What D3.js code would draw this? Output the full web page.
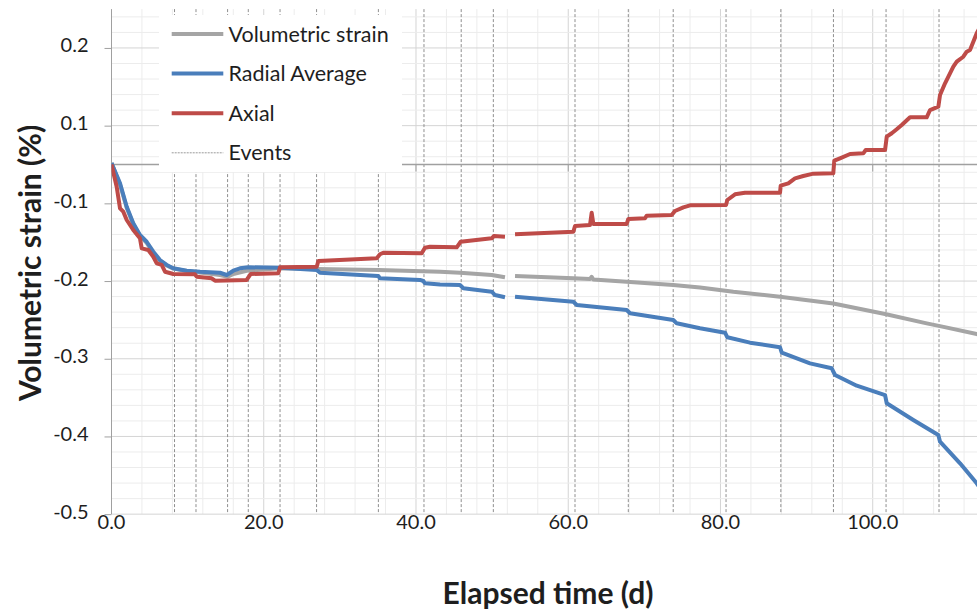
<!DOCTYPE html>
<html>
<head>
<meta charset="utf-8">
<script src="https://cdn.jsdelivr.net/npm/d3@7"></script>
<style>
  html, body { margin: 0; padding: 0; background: #fff; overflow: hidden; }
  svg { display: block; }
  text { font-family: Lato, "Open Sans", sans-serif; fill: #1e1e1e; }
</style>
</head>
<body>
<svg id="chart" width="977" height="609"></svg>
<script>
// Elapsed time (days) and strain (%) per series; null marks the logging gap
const volumetricDays = [0, 1.12, 2.0, 2.86, 3.74, 4.62, 5.49, 6.37, 7.25, 8.12, 9.88, 11.63, 14.25, 15.27, 16.0, 17.76, 22.14, 26.96, 35.05, 43.16, 45.78, 49.95, 51.69, 52.3, 53.01, 60.67, 62.86, 63.08, 63.3, 67.68, 73.8, 77.31, 81.69, 87.82, 94.82, 101.62, 107.09, 108.84, 113.66, 114];
const volumetricStrain = [0.002, -0.026, -0.056, -0.077, -0.092, -0.101, -0.114, -0.124, -0.130, -0.134, -0.137, -0.139, -0.1422, -0.1444, -0.141, -0.1367, -0.1336, -0.1345, -0.1358, -0.138, -0.1393, -0.1422, -0.1452, null, -0.1435, -0.1465, -0.1475, -0.1445, -0.148, -0.1508, -0.155, -0.1582, -0.1638, -0.1702, -0.1788, -0.1925, -0.2045, -0.208, -0.2182, -0.219];

const radialDays = [0, 1.12, 2.0, 2.86, 3.74, 4.62, 5.49, 6.37, 7.25, 8.12, 9.88, 11.63, 14.25, 15.13, 16.0, 16.88, 17.97, 22.14, 26.96, 27.39, 35.05, 35.27, 40.53, 40.96, 41.18, 43.16, 45.78, 46.22, 49.95, 50.38, 51.69, 52.3, 53.01, 60.67, 61.12, 67.68, 68.12, 73.8, 74.25, 77.31, 80.6, 80.9, 83.88, 87.82, 88.05, 91.76, 94.61, 95.05, 97.9, 101.62, 101.84, 105.33, 108.62, 108.84, 111.47, 113.66, 114];
const radialStrain = [0.002, -0.0242, -0.0543, -0.0757, -0.0907, -0.0994, -0.1122, -0.1229, -0.1293, -0.1336, -0.1367, -0.138, -0.1393, -0.1422, -0.1367, -0.1336, -0.1323, -0.1328, -0.1358, -0.1393, -0.1435, -0.1465, -0.1486, -0.1499, -0.1529, -0.1544, -0.1551, -0.1593, -0.1637, -0.168, -0.1709, null, -0.1701, -0.1766, -0.1808, -0.1873, -0.1915, -0.2001, -0.2044, -0.2108, -0.2165, -0.2224, -0.2293, -0.2353, -0.2422, -0.2559, -0.2623, -0.2709, -0.2847, -0.2967, -0.3073, -0.3288, -0.3481, -0.3568, -0.3846, -0.4103, -0.415];

const axialDays = [0, 0.68, 1.12, 1.55, 2.0, 2.86, 3.74, 3.97, 4.83, 5.49, 5.94, 6.59, 7.03, 8.12, 10.97, 11.19, 13.16, 13.6, 17.76, 18.29, 21.91, 22.14, 26.96, 27.17, 34.84, 35.27, 35.71, 40.75, 41.18, 41.84, 45.35, 45.87, 49.95, 50.25, 51.69, 52.3, 53.01, 60.67, 60.89, 62.86, 63.08, 63.3, 67.68, 67.89, 70.09, 70.31, 73.59, 74.02, 75.12, 76.0, 80.73, 80.9, 81.91, 83.22, 87.82, 87.91, 88.91, 89.79, 90.88, 92.2, 94.82, 94.95, 95.7, 97.02, 98.76, 99.08, 101.62, 101.84, 102.5, 103.15, 103.81, 104.9, 107.09, 107.53, 108.62, 108.84, 109.5, 110.59, 111.04, 111.9, 112.35, 112.78, 113.66, 114];
const axialStrain = [0, -0.0286, -0.0564, -0.0607, -0.0714, -0.0843, -0.095, -0.1079, -0.11, -0.1187, -0.1272, -0.1293, -0.138, -0.1409, -0.1413, -0.1444, -0.1465, -0.1496, -0.1486, -0.1409, -0.14, -0.1323, -0.1315, -0.1242, -0.1207, -0.1156, -0.1135, -0.1143, -0.1072, -0.1058, -0.1066, -0.0994, -0.095, -0.092, -0.0929, null, -0.0898, -0.0865, -0.0792, -0.0779, -0.062, -0.0766, -0.0766, -0.0701, -0.0692, -0.0659, -0.065, -0.0598, -0.0551, -0.0525, -0.0521, -0.0457, -0.0384, -0.0363, -0.0363, -0.0273, -0.0242, -0.0178, -0.0148, -0.0118, -0.0113, 0.0049, 0.008, 0.0135, 0.0144, 0.0187, 0.0187, 0.0358, 0.0402, 0.0453, 0.0508, 0.0607, 0.0607, 0.0701, 0.0744, 0.0894, 0.1045, 0.1259, 0.1323, 0.1387, 0.1452, 0.1474, 0.1689, 0.175];

// Test events (days)
const eventDays = [8.28, 11.1, 15.25, 17.97, 22.14, 26.94, 35.06, 41.05, 45.94, 50.16, 60.89, 67.89, 73.79, 80.73, 87.93, 94.84, 101.75, 108.71];

// Axis ticks
const yTickValues = [0.15, 0.05, -0.05, -0.15, -0.25, -0.35, -0.45];
const yTickLabels = ["0.2", "0.1", "-0.1", "-0.2", "-0.3", "-0.4", "-0.5"];
const xTickValues = [0, 20, 40, 60, 80, 100];

const seriesNames = ["Volumetric strain", "Radial Average", "Axial"];
const seriesColors = ["#a5a5a5", "#4a7ebb", "#be4b48"];

const svg = d3.select("#chart");

const x = d3.scaleLinear().domain([0, 114]).range([111.5, 979.3]);
const y = d3.scaleLinear().domain([-0.45, 0.2]).range([514.15, 9.1]);

const plotLeft = x(0), plotRight = x.range()[1];
const plotTop = y(0.2), plotBottom = y(-0.45);

const defs = svg.append("defs");
defs.append("clipPath").attr("id", "plot-clip")
  .append("rect")
  .attr("x", plotLeft).attr("y", plotTop - 2)
  .attr("width", plotRight - plotLeft).attr("height", plotBottom - plotTop + 4);

// Gridlines
const grid = svg.append("g");
const vGrid = d3.range(4, 115, 4);
grid.selectAll("line.v").data(vGrid).join("line")
  .attr("x1", d => x(d)).attr("x2", d => x(d))
  .attr("y1", plotTop).attr("y2", plotBottom)
  .attr("stroke", d => d % 20 === 0 ? "#d4d4d4" : "#ececec")
  .attr("stroke-width", 1);

const hGrid = d3.range(0, 33).map(k => Math.round((0.19 - 0.02 * k) * 1000) / 1000);
const majorY = new Set(yTickValues.map(v => Math.round(v * 1000)));
grid.selectAll("line.h").data(hGrid).join("line")
  .attr("x1", plotLeft).attr("x2", plotRight)
  .attr("y1", d => y(d)).attr("y2", d => y(d))
  .attr("stroke", d => majorY.has(Math.round(d * 1000)) ? "#d4d4d4" : "#ececec")
  .attr("stroke-width", 1);

// Event markers
svg.append("g").selectAll("line").data(eventDays).join("line")
  .attr("x1", d => x(d)).attr("x2", d => x(d))
  .attr("y1", plotTop).attr("y2", plotBottom)
  .attr("stroke", "#8f8f8f").attr("stroke-width", 1)
  .attr("stroke-dasharray", "3,2");

// Y axis
const yAxis = d3.axisLeft(y)
  .tickValues(yTickValues)
  .tickFormat((d, i) => yTickLabels[i])
  .tickSize(7).tickPadding(16);
const yg = svg.append("g").attr("transform", `translate(${plotLeft},0)`).call(yAxis);
yg.select(".domain").attr("stroke", "#a0a0a0").attr("d", `M0,${plotTop}V${plotBottom}`);
yg.selectAll(".tick line").attr("stroke", "#a0a0a0");
yg.selectAll(".tick text").attr("font-size", 20).attr("fill", "#1e1e1e")
  .attr("dy", "0.2em")
  .style("font-family", "Lato, 'Open Sans', sans-serif");

// X axis line crosses at zero, labels sit below the plot
const xAxisLine = svg.append("g");
xAxisLine.append("line")
  .attr("x1", plotLeft).attr("x2", plotRight)
  .attr("y1", y(0)).attr("y2", y(0))
  .attr("stroke", "#a0a0a0").attr("stroke-width", 1.3);
xAxisLine.selectAll("line.t").data(xTickValues.filter(d => d > 0)).join("line")
  .attr("x1", d => x(d)).attr("x2", d => x(d))
  .attr("y1", y(0)).attr("y2", y(0) + 7)
  .attr("stroke", "#a0a0a0");
svg.append("g").selectAll("text").data(xTickValues).join("text")
  .attr("x", d => x(d)).attr("y", 522).attr("dy", "0.35em")
  .attr("text-anchor", "middle").attr("font-size", 20)
  .text(d => d3.format(".1f")(d));

// Data lines
const seriesData = [
  volumetricDays.map((d, i) => [d, volumetricStrain[i]]),
  radialDays.map((d, i) => [d, radialStrain[i]]),
  axialDays.map((d, i) => [d, axialStrain[i]])
];
const line = d3.line()
  .defined(d => d[1] !== null)
  .x(d => x(d[0])).y(d => y(d[1]));
svg.append("g").attr("clip-path", "url(#plot-clip)")
  .selectAll("path").data(seriesData).join("path")
  .attr("d", line)
  .attr("fill", "none")
  .attr("stroke", (d, i) => seriesColors[i])
  .attr("stroke-width", 4)
  .attr("stroke-linejoin", "round");

// Legend
const legend = svg.append("g");
legend.append("rect")
  .attr("x", 159).attr("y", 15).attr("width", 243).attr("height", 157)
  .attr("fill", "#fff");
const legendItems = seriesNames.map((n, i) => ({ name: n, color: seriesColors[i], dashed: false }))
  .concat([{ name: "Events", color: "#9a9a9a", dashed: true }]);
const li = legend.selectAll("g.item").data(legendItems).join("g")
  .attr("transform", (d, i) => `translate(0,${34 + i * 39.6})`);
li.append("line")
  .attr("x1", 171.7).attr("x2", 223.3).attr("y1", 0).attr("y2", 0)
  .attr("stroke", d => d.color)
  .attr("stroke-width", d => d.dashed ? 1 : 4)
  .attr("stroke-dasharray", d => d.dashed ? "2,1" : null);
li.append("text")
  .attr("x", 228.5).attr("y", 0).attr("dy", "0.35em")
  .attr("font-size", 21.5)
  .text(d => d.name);

// Axis titles
svg.append("text")
  .attr("transform", "translate(30,263) rotate(-90)")
  .attr("text-anchor", "middle").attr("dy", "0.35em")
  .attr("font-size", 30).attr("font-weight", "bold")
  .text("Volumetric strain (%)");
svg.append("text")
  .attr("x", 548).attr("y", 593).attr("dy", "0.35em")
  .attr("text-anchor", "middle")
  .attr("font-size", 30).attr("font-weight", "bold")
  .text("Elapsed time (d)");
</script>
</body>
</html>
